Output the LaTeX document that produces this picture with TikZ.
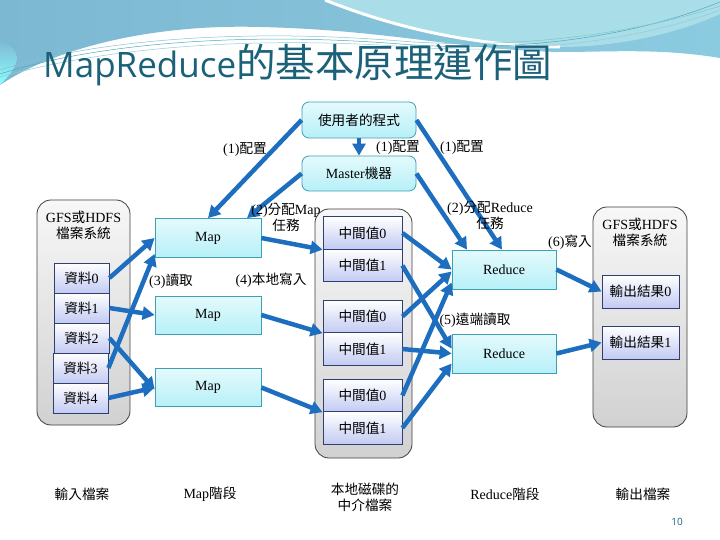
\documentclass[tikz,border=0pt]{standalone}
\usepackage{fontspec}
\setmainfont{Liberation Serif}
\newfontfamily\zhfont[Scale=0.975]{Noto Sans CJK TC}
\newfontfamily\zhtfont{Noto Sans CJK TC}
\newfontfamily\titlefont{Open Sans}
\usetikzlibrary{arrows.meta,calc}
\newcommand\zh[1]{{\zhfont #1}}
\definecolor{arrowblue}{HTML}{1E6EBF}
\definecolor{procborder}{HTML}{3E9FB0}
\definecolor{proctop}{HTML}{E4FAFC}
\definecolor{procbot}{HTML}{B6F0F8}
\definecolor{cellborder}{HTML}{2E3F72}
\definecolor{cellbot}{HTML}{C2CAF2}
\definecolor{titleteal}{HTML}{1B6179}
\definecolor{decoblue}{HTML}{7DB8D2}
\definecolor{decoblue2}{HTML}{8BCBE0}
\definecolor{decocyan}{HTML}{A9DEE8}
\definecolor{decoline}{HTML}{4FA9BC}
\tikzset{
  arr/.style={draw=arrowblue, line width=4.5pt, -{Triangle[length=12pt,width=13pt]}},
  cont/.style={draw=black!75, line width=0.8pt, rounded corners=14pt, top color=white!97!black, bottom color=white!82!black, inner sep=0pt},
  cell/.style={draw=cellborder, line width=0.8pt, top color=white, bottom color=cellbot, inner sep=0pt, font=\fontsize{14}{16}\selectfont},
  proc/.style={draw=procborder, line width=0.8pt, top color=proctop, bottom color=procbot, inner sep=0pt, font=\fontsize{14}{16}\selectfont},
  lbl/.style={inner sep=0pt, align=center, font=\fontsize{14}{16}\selectfont},
}
\begin{document}
\begin{tikzpicture}[x=1pt,y=-1pt]
\useasboundingbox (0,0) rectangle (720,540);
\fill[white] (0,0) rectangle (720,540);
% --- top decoration ---
\shade[left color=decoblue, right color=decoblue2]
  (0,0) -- (720,0) -- (720,58) .. controls (660,48) and (610,52) .. (560,52)
  .. controls (460,50) and (390,30) .. (260,27) .. controls (160,24) and (60,45) .. (0,85) -- cycle;
\shade[top color=decoblue, bottom color=cyan!45!white] (0,40) .. controls (20,50) and (25,60) .. (0,85) -- cycle;
\fill[decocyan] (325,0) .. controls (400,30) and (480,46) .. (560,47)
  .. controls (630,47) and (690,28) .. (720,14) -- (720,0) -- cycle;
\draw[white, line width=3pt] (325,0) .. controls (400,30) and (480,46) .. (560,47);
\draw[decoline, line width=0.5pt] (0,74) .. controls (100,42) and (250,32) .. (400,44) .. controls (500,52) and (620,42) .. (720,2);
\draw[decoline!70!white, line width=0.5pt] (0,70) .. controls (100,38) and (250,29) .. (400,41) .. controls (500,49) and (620,38) .. (720,6);
\draw[decoline!60!white, line width=0.5pt] (0,77) .. controls (110,46) and (260,36) .. (410,47) .. controls (510,54) and (630,44) .. (720,10);
% --- title ---
\node[anchor=base west, inner sep=0pt, text=titleteal] (title) at (43,78)
  {\titlefont\fontsize{35}{40}\selectfont MapReduce{\zhtfont\fontsize{39.5}{44}\selectfont 的基本原理運作圖}};
% --- containers ---
\node[cont, minimum width=93pt, minimum height=225pt] (inL) at (83.5,312.5) {};
\node[cont, minimum width=97pt, minimum height=249pt] (inM) at (363.5,333.5) {};
\node[cont, minimum width=94pt, minimum height=220pt] (inR) at (640,317) {};
\node[lbl] (inLt) at (83.5,225) {GFS\zh{或}HDFS\\\zh{檔案系統}};
\node[lbl] (inRt) at (640,232) {GFS\zh{或}HDFS\\\zh{檔案系統}};
% --- control boxes ---
\node[proc, rounded corners=7pt, minimum width=114pt, minimum height=36pt] (user) at (359,120) {\zh{使用者的程式}};
\node[proc, rounded corners=7pt, minimum width=114pt, minimum height=35pt] (master) at (359,173.5) {Master\zh{機器}};
% --- data cells ---
\node[cell, minimum width=55pt, minimum height=30pt] (d0) at (81.5,278) {\zh{資料}0};
\node[cell, minimum width=55pt, minimum height=30pt] (d1) at (81.5,308) {\zh{資料}1};
\node[cell, minimum width=55pt, minimum height=30pt] (d2) at (81.5,338) {\zh{資料}2};
\node[cell, minimum width=55pt, minimum height=30pt] (d3) at (80.5,368) {\zh{資料}3};
\node[cell, minimum width=55pt, minimum height=30pt] (d4) at (80.5,398) {\zh{資料}4};
% --- map boxes ---
\node[proc, minimum width=106pt, minimum height=39pt] (map1) at (208,238) {Map};
\node[proc, minimum width=106pt, minimum height=38pt] (map2) at (208,315) {Map};
\node[proc, minimum width=106pt, minimum height=38pt] (map3) at (208,387.5) {Map};
% --- intermediate cells ---
\node[cell, minimum width=79pt, minimum height=32.5pt] (i0a) at (362.5,233) {\zh{中間值}0};
\node[cell, minimum width=79pt, minimum height=32.5pt] (i1a) at (362.5,265.5) {\zh{中間值}1};
\node[cell, minimum width=79pt, minimum height=32.5pt] (i0b) at (362.5,316.5) {\zh{中間值}0};
\node[cell, minimum width=79pt, minimum height=32.5pt] (i1b) at (362.5,349) {\zh{中間值}1};
\node[cell, minimum width=79pt, minimum height=32.5pt] (i0c) at (362.5,395.5) {\zh{中間值}0};
\node[cell, minimum width=79pt, minimum height=32.5pt] (i1c) at (362.5,428) {\zh{中間值}1};
% --- reduce boxes ---
\node[proc, minimum width=104pt, minimum height=39pt] (red1) at (504,269.5) {Reduce};
\node[proc, minimum width=104pt, minimum height=39pt] (red2) at (504,353.5) {Reduce};
% --- output cells ---
\node[cell, minimum width=77pt, minimum height=33pt] (o0) at (640.5,291.5) {\zh{輸出結果}0};
\node[cell, minimum width=77pt, minimum height=33pt] (o1) at (640.5,342.5) {\zh{輸出結果}1};
% --- arrows ---
\draw[arr] (user.south) -- (master.north);
\draw[arr] (user.west) -- (map1.north);
\draw[arr] (user.east) -- ([xshift=-2pt]red1.north);
\draw[arr] (master.west) -- ([xshift=39pt]map1.north);
\draw[arr] (master.east) -- ([xshift=-37pt]red1.north);
\draw[arr] (d0.east) -- (map1.west);
\draw[arr] (d3.east) -- ([yshift=4pt]map1.south west);
\draw[arr] (d1.east) -- (map2.west);
\draw[arr] (d2.east) -- ([yshift=-2pt]map3.west);
\draw[arr] (d4.east) -- (map3.west);
\draw[arr] (map1.east) -- (i0a.south west);
\draw[arr] (map2.east) -- (i0b.south west);
\draw[arr] (map3.east) -- (i0c.south west);
\draw[arr] (i0a.east) -- (red1.west);
\draw[arr] (i1a.east) -- ([yshift=5pt]red2.west);
\draw[arr] (i0b.east) -- ([yshift=-2pt]red1.west);
\draw[arr] (i1b.east) -- (red2.west);
\draw[arr] (i0c.east) -- ([yshift=-13pt]red1.west);
\draw[arr] (i1c.east) -- ([yshift=-10pt]red2.west);
\draw[arr] (red1.east) -- (o0.west);
\draw[arr] (red2.east) -- (o1.west);
% --- labels ---
\node[lbl] (l1a) at (245,150) {(1)\zh{配置}};
\node[lbl] (l1b) at (398,148) {(1)\zh{配置}};
\node[lbl] (l1c) at (462,148) {(1)\zh{配置}};
\node[lbl] (l2m) at (286,217) {(2)\zh{分配}Map\\\zh{任務}};
\node[lbl] (l2r) at (490,215) {(2)\zh{分配}Reduce\\\zh{任務}};
\node[lbl] (l3) at (171,281) {(3)\zh{讀取}};
\node[lbl] (l4) at (271,280) {(4)\zh{本地寫入}};
\node[lbl] (l5) at (475,320) {(5)\zh{遠端讀取}};
\node[lbl] (l6) at (570,242) {(6)\zh{寫入}};
% --- bottom labels ---
\node[lbl] (b1) at (82,494) {\zh{輸入檔案}};
\node[lbl] (b2) at (210,494) {Map\zh{階段}};
\node[lbl] (b3) at (365,497) {\zh{本地磁碟的}\\\zh{中介檔案}};
\node[lbl] (b4) at (505,494) {Reduce\zh{階段}};
\node[lbl] (b5) at (643,494) {\zh{輸出檔案}};
\node[inner sep=0pt, text=titleteal, font=\titlefont\fontsize{10}{12}\selectfont] (pg) at (677,522) {10};
\end{tikzpicture}
\end{document}
